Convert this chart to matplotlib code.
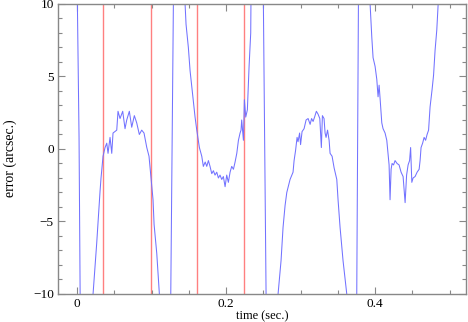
import matplotlib
matplotlib.use("Agg")
from matplotlib import pyplot as plt
from matplotlib.ticker import MultipleLocator

''' Data read off the reference (time in sec., error in arcsec.) '''
# values beyond +-10 only carry the curve off the plotted range
TIME = [
    -0.0010, 0.0000, 0.0027, 0.0047,
    0.0190, 0.0215, 0.0264, 0.0309, 0.0322, 0.0349, 0.0376, 0.0399, 0.0416,
    0.0443, 0.0466, 0.0483, 0.0533, 0.0550, 0.0577, 0.0613, 0.0644, 0.0667,
    0.0702, 0.0734, 0.0769, 0.0801, 0.0836, 0.0868, 0.0899, 0.0936, 0.0966,
    0.0989, 0.1020, 0.1034, 0.1070, 0.1105, 0.1140,
    0.1250, 0.1258, 0.1293, 0.1300,
    0.1445, 0.1450, 0.1463, 0.1494, 0.1517, 0.1561, 0.1584, 0.1607, 0.1642,
    0.1674, 0.1695, 0.1720, 0.1741, 0.1763, 0.1785, 0.1808, 0.1830, 0.1852,
    0.1875, 0.1897, 0.1919, 0.1942, 0.1964, 0.1987, 0.2009, 0.2031, 0.2054,
    0.2076, 0.2099, 0.2121, 0.2144, 0.2166, 0.2188, 0.2201, 0.2210, 0.2233,
    0.2246, 0.2264, 0.2286, 0.2309, 0.2331,
    0.2340, 0.2501, 0.2537, 0.2550,
    0.2680, 0.2698, 0.2738, 0.2765, 0.2792, 0.2815, 0.2859, 0.2899, 0.2913,
    0.2933, 0.2953, 0.2966, 0.2987, 0.3000, 0.3020, 0.3047, 0.3074, 0.3101,
    0.3128, 0.3148, 0.3168, 0.3188, 0.3212, 0.3235, 0.3258, 0.3279, 0.3293,
    0.3315, 0.3329, 0.3342, 0.3362, 0.3383, 0.3396, 0.3423, 0.3450, 0.3486,
    0.3503, 0.3530, 0.3570, 0.3620, 0.3640,
    0.3745, 0.3754, 0.3776, 0.3785,
    0.3925, 0.3933, 0.3956, 0.3973, 0.4000, 0.4023, 0.4040, 0.4054, 0.4067,
    0.4090, 0.4107, 0.4134, 0.4157, 0.4174, 0.4188, 0.4201, 0.4215, 0.4228,
    0.4248, 0.4268, 0.4295, 0.4322, 0.4349, 0.4376, 0.4403, 0.4423, 0.4443,
    0.4463, 0.4477, 0.4493, 0.4510, 0.4537, 0.4564, 0.4591, 0.4604, 0.4617,
    0.4638, 0.4658, 0.4678, 0.4698, 0.4718, 0.4738, 0.4765, 0.4785, 0.4805,
    0.4828, 0.4846, 0.4870,
]
ERROR = [
    14.0, 12.0, 0.8, -14.0,
    -14.0, -10.0, -6.5, -2.9, -2.0, -0.5, 0.1, 0.4, -0.3,
    0.8, -0.3, 1.1, 1.3, 2.6, 2.1, 2.6, 1.4, 2.0,
    2.6, 1.5, 2.3, 1.8, 1.0, 1.3, 1.1, 0.1, -0.5,
    -1.8, -3.5, -5.2, -7.2, -10.0, -14.0,
    -14.0, -10.0, 10.0, 14.0,
    14.0, 10.0, 8.6, 7.0, 5.4, 3.3, 2.2, 1.3, 0.1,
    -0.5, -1.2, -0.9, -1.2, -0.8, -1.2, -1.7, -1.5, -1.8,
    -1.6, -2.0, -1.8, -2.1, -1.9, -2.6, -1.8, -2.3, -1.6,
    -1.2, -1.4, -0.9, -0.3, 0.6, 1.1, 1.3, 2.0, 0.6,
    3.4, 2.2, 2.7, 5.7, 8.0,
    14.0, 10.0, -10.0, -14.0,
    -14.0, -10.0, -7.7, -5.4, -3.9, -3.0, -2.1, -1.6, -0.8,
    -0.1, 0.8, 0.5, 1.1, 0.3, 1.2, 1.4, 2.0, 2.1,
    1.7, 2.1, 1.9, 2.2, 2.6, 2.4, 2.1, 0.1, 2.3,
    2.1, 1.1, 0.8, 1.3, 0.6, -0.3, -0.5, -1.3, -2.1,
    -3.5, -5.4, -7.7, -10.0, -14.0,
    -14.0, -10.0, 10.0, 14.0,
    14.0, 10.0, 7.7, 6.3, 5.7, 4.8, 3.6, 4.4, 3.5,
    1.8, 1.4, 1.1, 0.6, -0.3, -1.1, -3.5, -1.4, -1.0,
    -1.1, -0.8, -1.0, -1.1, -1.6, -1.9, -3.7, -1.8, -1.1,
    -0.8, 0.1, -2.3, -2.0, -1.9, -1.6, -1.4, -0.8, 0.1,
    0.4, 0.8, 0.6, 1.0, 1.3, 2.9, 4.1, 5.1, 6.8,
    8.2, 10.0, 12.0,
]
RED_LINES = [0.0353, 0.0989, 0.1607, 0.2237]

plt.rcParams['font.family'] = ['Liberation Serif', 'DejaVu Serif']

fig = plt.figure(figsize=(4.68, 3.22), dpi=100)
ax = fig.add_axes([0.124, 0.087, 0.8717, 0.9006])

for t in RED_LINES:
    ax.axvline(t, color='#ff8080', lw=1.0, zorder=1)

ax.plot(TIME, ERROR, color='#7272ff', lw=0.75, zorder=2)

ax.set_xlim(-0.0255, 0.522)
ax.set_ylim(-10, 10)
ax.xaxis.set_major_locator(MultipleLocator(0.2))
ax.xaxis.set_minor_locator(MultipleLocator(0.05))
ax.yaxis.set_major_locator(MultipleLocator(5))
ax.yaxis.set_minor_locator(MultipleLocator(1))
ax.set_xticks([0, 0.2, 0.4], ['0', '0.2', '0.4'])
ax.set_yticks([-10, -5, 0, 5, 10], ['\u221210', '\u22125', '0', '5', '10'])

ax.tick_params(which='both', direction='in', top=True, right=True,
               color='#888888', labelsize=9.5, width=0.8)
ax.tick_params(which='major', length=5, pad=3)
ax.tick_params(which='minor', length=3)
for s in ax.spines.values():
    s.set_color('#888888')
    s.set_linewidth(1.0)

ax.set_xlabel('time (sec.)', fontsize=9)
ax.xaxis.set_label_coords(0.5, -0.055)
ax.set_ylabel('error (arcsec.)', fontsize=10)
ax.yaxis.set_label_coords(-0.1, 0.47)

fig.savefig('out.png', dpi=100)
